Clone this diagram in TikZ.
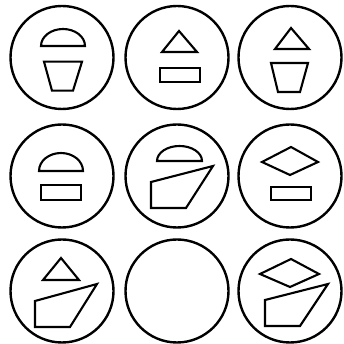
\documentclass[tikz,border=0pt]{standalone}
\begin{document}
\begin{tikzpicture}[x=1pt,y=1pt,line join=miter]
	\tikzset{ring/.style={line width=2.4pt},fig/.style={line width=2.1pt}}
	\useasboundingbox (0,0) rectangle (343,344);
	% circles
	\foreach \r/\y in {1/286.5,2/168,3/53}
		\foreach \c/\x in {1/62,2/177,3/290}
			\coordinate (c\r\c) at (\x,\y);
	\foreach \n in {c11,c12,c13,c21,c22,c23,c31,c32,c33}
		\draw[ring] (\n) circle (51.5);
	% row 1
	\draw[fig] (41,298) arc[start angle=180,end angle=0,x radius=22,y radius=17] -- cycle;
	\draw[fig] (44,282.3) -- (82,282.3) -- (73,253.3) -- (52,253.3) -- cycle;
	\draw[fig] (162,292) -- (179,313) -- (197,292) -- cycle;
	\draw[fig] (160,262) rectangle (200,276);
	\draw[fig] (275,295) -- (291,316) -- (309,295) -- cycle;
	\draw[fig] (271,281) -- (308,281) -- (300,252) -- (278,252) -- cycle;
	% row 2
	\draw[fig] (39,173) arc[start angle=180,end angle=0,x radius=22,y radius=18] -- cycle;
	\draw[fig] (41,144) rectangle (81,159);
	\draw[fig] (157,183) arc[start angle=180,end angle=0,x radius=22.5,y radius=15] -- cycle;
	\draw[fig] (151,162) -- (213,178) -- (186,136) -- (151,136) -- cycle;
	\draw[fig] (262,182) -- (291,197) -- (318,182) -- (290,169) -- cycle;
	\draw[fig] (271,144) rectangle (311,157);
	% row 3
	\draw[fig] (43,64) -- (61,86) -- (79,64) -- cycle;
	\draw[fig] (35,43) -- (97,60) -- (70,17) -- (35,17) -- cycle;
	\draw[fig] (260,70) -- (291,85) -- (319,70) -- (290,57) -- cycle;
	\draw[fig] (265,44) -- (328,60) -- (300,18) -- (265,18) -- cycle;
\end{tikzpicture}
\end{document}
